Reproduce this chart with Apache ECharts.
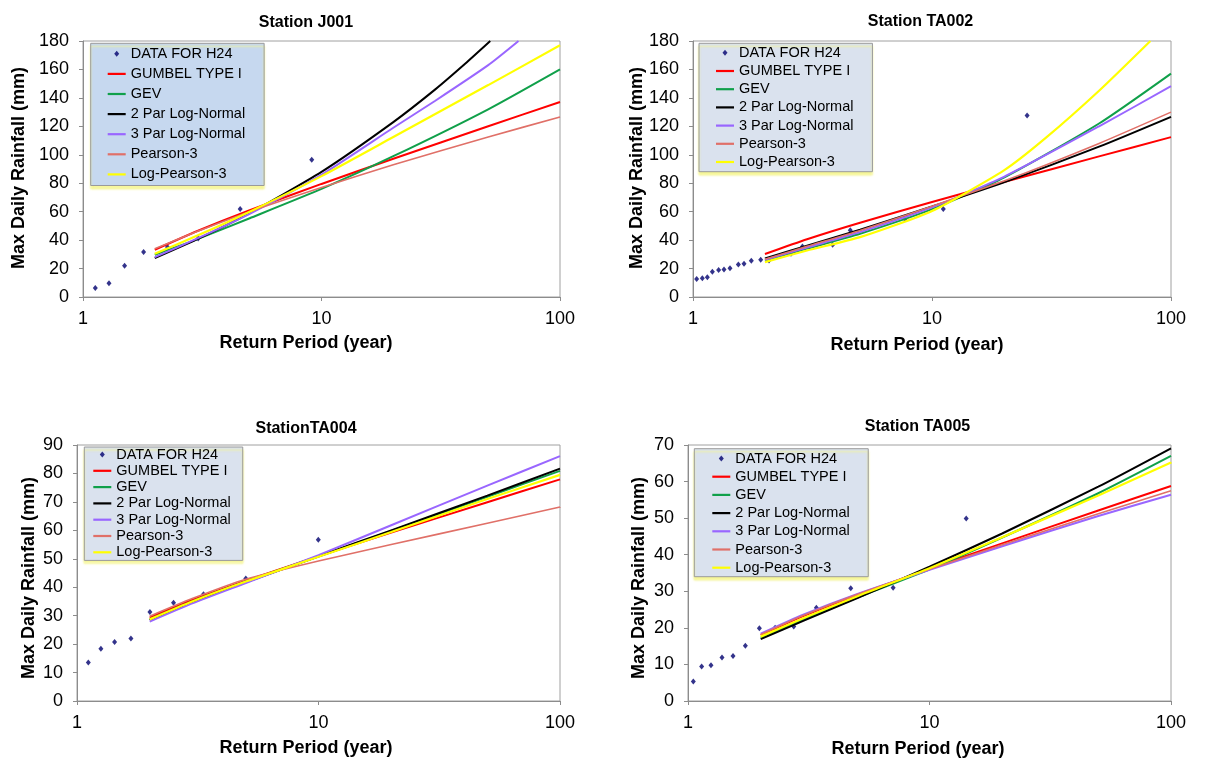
<!DOCTYPE html>
<html>
<head>
<meta charset="utf-8">
<script src="https://cdn.jsdelivr.net/npm/echarts@6/dist/echarts.min.js"></script>
<style>html,body{margin:0;padding:0;background:#fff}#c{width:1205px;height:769px}</style>
</head>
<body>
<div id="c"></div>
<script>
// ---------- DATA ----------
const SERIES_NAMES = ['DATA FOR H24', 'GUMBEL TYPE I', 'GEV', '2 Par Log-Normal', '3 Par Log-Normal', 'Pearson-3', 'Log-Pearson-3'];
const FIT_T = [2, 3, 5, 10, 20, 50, 100];

// Station J001
const j001_obsT = [1.126, 1.285, 1.494, 1.795, 2.26, 3.04, 4.56, 9.1];
const j001_obs = [6.3, 9.6, 22.0, 31.6, 35.1, 41.1, 61.9, 96.5];
const j001_gumbel = [33.2, 46.2, 61.0, 79.5, 97.2, 120.1, 137.1];
const j001_gev = [29.7, 40.5, 55.4, 76, 99, 132, 160.1];
const j001_ln2T = [2, 3, 5, 10, 20, 30, 40, 51];
const j001_ln2 = [27.3, 40.5, 59, 88, 123, 146, 164, 180];
const j001_ln3T = [2, 3, 5, 10, 20, 30, 50, 67];
const j001_ln3 = [28, 41, 58.5, 86, 119, 138, 163, 180];
const j001_p3 = [34, 46, 60, 77, 93, 112.5, 126.6];
const j001_lp3 = [30.4, 43, 60, 85, 112.5, 149, 177];

// Station TA002
const ta002_obsT = [1.036, 1.094, 1.148, 1.205, 1.28, 1.348, 1.428, 1.548, 1.635, 1.754, 1.92, 2.08, 2.57, 2.87, 3.84, 4.55, 7.71, 11.15, 25.0];
const ta002_obs = [12.6, 13.1, 13.8, 17.7, 18.9, 19.4, 20.3, 22.9, 23.4, 25.5, 26.2, 25.7, 30.4, 35.5, 36.7, 47.0, 54.9, 61.9, 127.6];
const ta002_gumbel = [30.2, 40.6, 52.2, 66.8, 80.8, 98.9, 112.4];
const ta002_gev = [25.7, 34, 44.5, 61.8, 84, 122, 157.1];
const ta002_ln2 = [27.1, 36.1, 47.3, 63.6, 80.6, 105.7, 126.7];
const ta002_ln3 = [26.2, 34.8, 45.6, 63, 84.5, 120, 148.2];
const ta002_p3 = [26.6, 35.6, 46.8, 63.8, 81.5, 108, 130];
const ta002_lp3T = [2, 3, 5, 10, 20, 30, 50, 82];
const ta002_lp3 = [24.5, 32.7, 42.1, 60.5, 89, 112, 145, 180];

// Station TA004
const ta004_obsT = [1.114, 1.256, 1.431, 1.672, 2.004, 2.51, 3.34, 5.0, 9.98];
const ta004_obs = [13.5, 18.4, 20.7, 22.0, 31.3, 34.5, 37.5, 43.1, 56.7];
const ta004_gumbel = [29.3, 35.5, 42.3, 50.9, 59.2, 69.9, 77.9];
const ta004_gev = [28.7, 35, 42, 50.8, 59.8, 71.8, 80.9];
const ta004_ln2 = [28.5, 34.6, 41.7, 50.9, 60.0, 72.2, 81.7];
const ta004_ln3 = [27.9, 34.3, 41.5, 51.3, 61.8, 75.7, 86.1];
const ta004_p3 = [29.8, 36, 42.8, 49.2, 55, 62.5, 68.2];
const ta004_lp3 = [28.7, 35, 42, 50.7, 59.4, 71, 79.5];

// Station TA005
const ta005_obsT = [1.052, 1.139, 1.245, 1.383, 1.536, 1.728, 1.975, 2.294, 2.741, 3.40, 4.72, 7.07, 14.19];
const ta005_obs = [5.3, 9.45, 9.8, 11.9, 12.3, 15.1, 19.9, 20.0, 20.4, 25.5, 30.8, 31.0, 49.9];
const ta005_gumbel = [18.0, 23.2, 28.9, 36.2, 43.1, 52.1, 58.8];
const ta005_gev = [17.3, 22.3, 28.2, 36.0, 44.7, 56.8, 67.0];
const ta005_ln2 = [16.9, 21.9, 28.1, 36.7, 45.8, 58.6, 69.1];
const ta005_ln3 = [18.4, 23.6, 29.2, 35.9, 42.3, 50.6, 56.4];
const ta005_p3 = [18.2, 23.4, 29.1, 36.0, 42.7, 51.2, 57.5];
const ta005_lp3 = [17.6, 22.6, 28.6, 36.3, 44.8, 56.2, 65.2];

const TITLES = ['Station J001', 'Station TA002', 'StationTA004', 'Station TA005'];
const Y_MAX = [180, 180, 90, 70];
const Y_STEP = [20, 20, 10, 10];
const X_TITLE = 'Return Period (year)';
const Y_TITLE = 'Max Daily Rainfall (mm)';

// ---------- BUILD ----------
const stations = [
  {obsT: j001_obsT, obs: j001_obs, fits: [[FIT_T, j001_gumbel], [FIT_T, j001_gev], [j001_ln2T, j001_ln2], [j001_ln3T, j001_ln3], [FIT_T, j001_p3], [FIT_T, j001_lp3]]},
  {obsT: ta002_obsT, obs: ta002_obs, fits: [[FIT_T, ta002_gumbel], [FIT_T, ta002_gev], [FIT_T, ta002_ln2], [FIT_T, ta002_ln3], [FIT_T, ta002_p3], [ta002_lp3T, ta002_lp3]]},
  {obsT: ta004_obsT, obs: ta004_obs, fits: [[FIT_T, ta004_gumbel], [FIT_T, ta004_gev], [FIT_T, ta004_ln2], [FIT_T, ta004_ln3], [FIT_T, ta004_p3], [FIT_T, ta004_lp3]]},
  {obsT: ta005_obsT, obs: ta005_obs, fits: [[FIT_T, ta005_gumbel], [FIT_T, ta005_gev], [FIT_T, ta005_ln2], [FIT_T, ta005_ln3], [FIT_T, ta005_p3], [FIT_T, ta005_lp3]]}
];

const FONT = '"Liberation Sans", Arial, Helvetica, sans-serif';
const COLORS = ['#00006e', '#ff0000', '#10a04a', '#000000', '#9966ff', '#e07068', '#ffff00'];
const LINE_W = [0, 2, 2, 2, 2, 1.6, 2.2];

const GRIDS = [
  {left: 83, top: 41, width: 477, height: 256},
  {left: 693, top: 41, width: 478, height: 256},
  {left: 77, top: 445, width: 483, height: 256},
  {left: 688, top: 445, width: 483, height: 256}
];
const LEGENDS = [
  {left: 90.7, top: 43.3, gap: 5.1, pad: [3, 19, 3.6, 17], bg: '#c6d8ef'},
  {left: 699, top: 43.3, gap: 3.2, pad: [2, 19, 2.2, 17], bg: '#dae2ee'},
  {left: 84.3, top: 447, gap: 1.3, pad: [0, 12, 0.6, 9], bg: '#dae2ee'},
  {left: 694.3, top: 448.7, gap: 3.2, pad: [2.3, 18.5, 1.5, 18], bg: '#dae2ee'}
];
const TITLE_POS = [[306, 22.5], [920.5, 21.7], [306, 429], [917.5, 427]];
const XT_POS = [[306, 343], [917, 345], [306, 748], [918, 749]];
const YT_POS = [[19, 168], [637, 168], [29.5, 578], [639, 578]];

const ICON_LINE = 'path://M0,0M18,14M0,5.9H18V8.1H0Z';
const ICON_DIAMOND = 'path://M0,0M18,14M9,4L11.5,7L9,10L6.5,7Z';

const option = {
  animation: false,
  backgroundColor: '#ffffff',
  grid: [], xAxis: [], yAxis: [], legend: [], series: [], graphic: []
};

stations.forEach((st, i) => {
  option.grid.push(Object.assign({show: true, borderColor: '#a0a0a0', borderWidth: 1, containLabel: false}, GRIDS[i]));
  option.xAxis.push({
    type: 'log', logBase: 10, min: 1, max: 100, gridIndex: i,
    axisLine: {show: true, lineStyle: {color: '#8c8c8c', width: 1}},
    axisTick: {show: true, length: 4, inside: false, lineStyle: {color: '#8c8c8c'}},
    axisLabel: {fontSize: 18, color: '#000', margin: 13, fontFamily: FONT},
    splitLine: {show: false}, minorTick: {show: false}, minorSplitLine: {show: false}
  });
  option.yAxis.push({
    type: 'value', min: 0, max: Y_MAX[i], interval: Y_STEP[i], gridIndex: i,
    axisLine: {show: true, lineStyle: {color: '#8c8c8c', width: 1}},
    axisTick: {show: true, length: 4, inside: false, lineStyle: {color: '#8c8c8c'}},
    axisLabel: {fontSize: 18, color: '#000', margin: 14, fontFamily: FONT},
    splitLine: {show: false}
  });
  const L = LEGENDS[i];
  option.legend.push({
    orient: 'vertical', left: L.left, top: L.top,
    itemWidth: 18, itemHeight: 14, itemGap: L.gap, padding: L.pad,
    backgroundColor: L.bg, borderColor: '#9a9a9a', borderWidth: 1,
    shadowColor: 'rgba(245,245,140,0.9)', shadowBlur: 2, shadowOffsetX: 0, shadowOffsetY: 3,
    selectedMode: false,
    itemStyle: {borderWidth: 0},
    textStyle: {fontSize: 14.5, color: '#000', fontFamily: FONT, lineHeight: 14},
    data: SERIES_NAMES.map((n, k) => ({name: n, icon: k === 0 ? ICON_DIAMOND : ICON_LINE}))
  });
  option.series.push({
    name: SERIES_NAMES[0], type: 'scatter', xAxisIndex: i, yAxisIndex: i,
    symbol: 'diamond', symbolSize: [5, 6],
    itemStyle: {color: COLORS[0]},
    data: st.obsT.map((t, k) => [t, st.obs[k]])
  });
  st.fits.forEach((f, k) => {
    option.series.push({
      name: SERIES_NAMES[k + 1], type: 'line', xAxisIndex: i, yAxisIndex: i,
      symbol: 'none', smooth: 0.2, clip: true,
      itemStyle: {color: COLORS[k + 1]},
      lineStyle: {color: COLORS[k + 1], width: LINE_W[k + 1]},
      data: f[0].map((t, j) => [t, f[1][j]])
    });
  });
  option.graphic.push({
    type: 'text', x: TITLE_POS[i][0], y: TITLE_POS[i][1],
    style: {text: TITLES[i], fontSize: 16, fontWeight: 'bold', fontFamily: FONT, fill: '#000', align: 'center', verticalAlign: 'middle'}
  });
  option.graphic.push({
    type: 'text', x: XT_POS[i][0], y: XT_POS[i][1],
    style: {text: X_TITLE, fontSize: 18, fontWeight: 'bold', fontFamily: FONT, fill: '#000', align: 'center', verticalAlign: 'middle'}
  });
  option.graphic.push({
    type: 'text', x: YT_POS[i][0], y: YT_POS[i][1], rotation: Math.PI / 2,
    style: {text: Y_TITLE, fontSize: 18, fontWeight: 'bold', fontFamily: FONT, fill: '#000', align: 'center', verticalAlign: 'middle'}
  });
});

const chart = echarts.init(document.getElementById('c'), null, {renderer: 'canvas'});
chart.setOption(option);
</script>
</body>
</html>
